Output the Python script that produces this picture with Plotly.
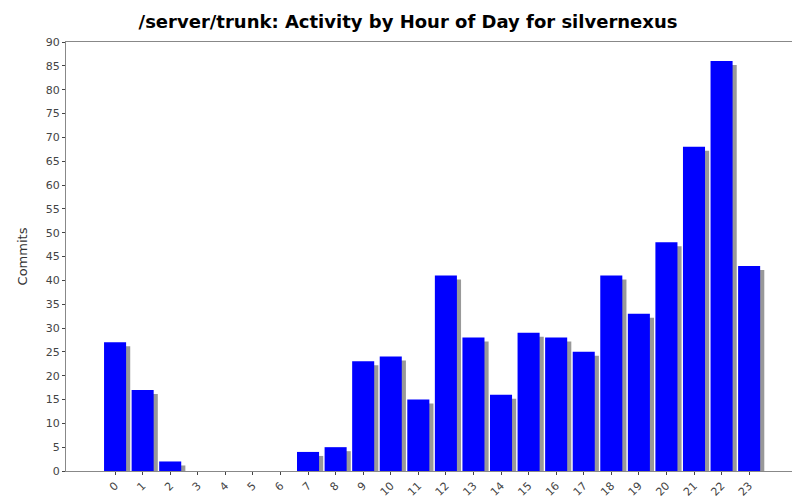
import plotly.graph_objects as go

hours = list(range(24))
labels = [str(h) for h in hours]
commits = [27,17,2,0,0,0,0,4,5,23,24,15,41,28,16,29,28,25,41,33,48,68,86,43]

fig = go.Figure()
fig.add_bar(x=hours, y=commits, base=-0.84, offset=-0.25, width=0.8,
            marker=dict(color="#999999", line=dict(width=0)), hoverinfo="skip")
fig.add_bar(x=hours, y=commits, offset=-0.4, width=0.8,
            marker=dict(color="#0000ff", line=dict(width=0)))
fig.update_layout(
    width=800, height=500, barmode="overlay", showlegend=False,
    paper_bgcolor="white", plot_bgcolor="white",
    margin=dict(l=58, r=12, t=34, b=37, pad=0),
    font=dict(family="DejaVu Sans", size=11, color="#444444"),
    title=dict(text="<b>/server/trunk: Activity by Hour of Day for silvernexus</b>",
               x=0.5, xanchor="center", y=0.985, yanchor="top",
               font=dict(size=18, color="black")),
    xaxis=dict(tickmode="array", tickvals=hours, ticktext=labels, range=[-1.78, 24.7],
               tickangle=-45, showgrid=False, ticks="outside", ticklen=3, automargin=False,
               showline=True, linecolor="#888888", mirror=True, zeroline=False),
    yaxis=dict(range=[0, 90], dtick=5, showgrid=False, ticks="outside", ticklen=3, automargin=False,
               showline=True, linecolor="#888888", mirror=True, zeroline=False,
               title=dict(text="Commits", font=dict(size=13, color="#333333"))),
)
fig.write_html("out.html")
